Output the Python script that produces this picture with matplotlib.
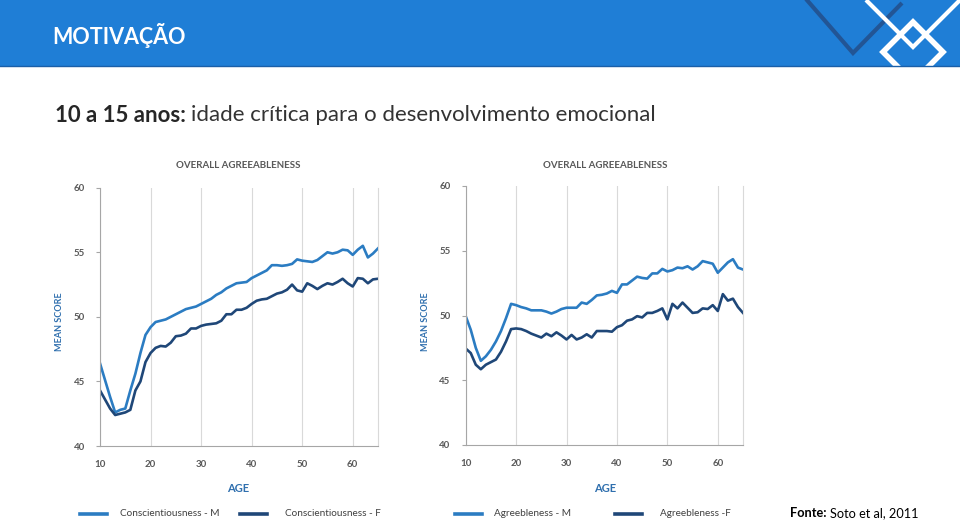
import matplotlib
matplotlib.use("Agg")
import matplotlib.pyplot as plt
from matplotlib.lines import Line2D
from matplotlib.patches import Rectangle, Polygon

plt.rcParams['font.family'] = ['Lato', 'DejaVu Sans']

ages = list(range(10, 66))

consc_m = [46.4, 45.1, 43.8, 42.6, 42.8, 42.9, 44.3, 45.6, 47.2, 48.6,
           49.2, 49.6, 49.7, 49.8, 50.0, 50.2, 50.4, 50.6, 50.7, 50.8,
           51.0, 51.2, 51.4, 51.7, 51.9, 52.2, 52.4, 52.6, 52.65, 52.7,
           53.0, 53.2, 53.4, 53.6, 54.0, 54.0, 53.95, 54.0, 54.1, 54.45,
           54.35, 54.3, 54.25, 54.4, 54.7, 55.0, 54.9, 55.0, 55.2, 55.15,
           54.8, 55.2, 55.5, 54.6, 54.9, 55.3]
consc_f = [44.3, 43.6, 42.9, 42.4, 42.5, 42.6, 42.8, 44.3, 45.0, 46.5,
           47.2, 47.6, 47.75, 47.7, 48.0, 48.5, 48.55, 48.7, 49.1, 49.1,
           49.3, 49.4, 49.45, 49.5, 49.7, 50.2, 50.2, 50.55, 50.55, 50.7,
           51.0, 51.25, 51.35, 51.4, 51.6, 51.8, 51.9, 52.1, 52.5, 52.05,
           51.95, 52.6, 52.4, 52.15, 52.4, 52.6, 52.5, 52.7, 52.95, 52.6,
           52.35, 53.0, 52.95, 52.6, 52.9, 52.95]
agree_m = [49.95, 48.9, 47.5, 46.5, 46.85, 47.35, 48.0, 48.8, 49.8, 50.9,
           50.8, 50.65, 50.55, 50.4, 50.4, 50.4, 50.3, 50.15, 50.3, 50.5,
           50.6, 50.6, 50.6, 51.0, 50.9, 51.2, 51.55, 51.6, 51.7, 51.9,
           51.75, 52.4, 52.4, 52.7, 53.0, 52.9, 52.85, 53.25, 53.25, 53.6,
           53.4, 53.5, 53.7, 53.65, 53.8, 53.55, 53.8, 54.2, 54.1, 54.0,
           53.3, 53.7, 54.1, 54.35, 53.7, 53.55]
agree_f = [47.45, 47.1, 46.2, 45.85, 46.2, 46.4, 46.6, 47.2, 48.0, 48.95,
           49.0, 48.95, 48.8, 48.6, 48.45, 48.3, 48.6, 48.4, 48.7, 48.45,
           48.15, 48.5, 48.15, 48.3, 48.55, 48.3, 48.8, 48.8, 48.8, 48.75,
           49.1, 49.25, 49.6, 49.7, 49.95, 49.85, 50.2, 50.2, 50.35, 50.55,
           49.7, 50.9, 50.55, 51.0, 50.6, 50.2, 50.25, 50.55, 50.5, 50.8,
           50.35, 51.65, 51.15, 51.3, 50.65, 50.2]

x_ticks = [10, 20, 30, 40, 50, 60]
y_ticks = [40, 45, 50, 55, 60]
legend_labels = ["Conscientiousness - M", "Conscientiousness - F",
                 "Agreebleness - M", "Agreebleness -F"]

LIGHT = "#2b7cc2"
DARK = "#1f4778"
HEADER = "#1f7ed6"
AXBLUE = "#2f6fae"
GRAY = "#595959"

W, H = 960, 520
fig = plt.figure(figsize=(W / 100, H / 100), dpi=100)
fig.patch.set_facecolor("white")
renderer = fig.canvas.get_renderer()

def fx(px):
    return px / W

def fy(py):
    return 1 - py / H

def text_after(t, gap_px, s, **kw):
    bb = t.get_window_extent(renderer=renderer)
    return fig.text((bb.x1 + gap_px) / W, t.get_position()[1], s, **kw)

# header bar
fig.add_artist(Rectangle((0, fy(66)), 1, 66 / H, transform=fig.transFigure,
                         facecolor=HEADER, edgecolor="none", zorder=0))
fig.add_artist(Line2D([0, 1], [fy(66), fy(66)], transform=fig.transFigure,
                      color="#1a5fa8", lw=1.0))
# decorative diamonds
fig.add_artist(Polygon([(fx(806), fy(-1)), (fx(853), fy(53)), (fx(902), fy(3))],
                       closed=False, fill=False, transform=fig.transFigure,
                       edgecolor="#23518e", lw=3.0, alpha=0.9))
fig.add_artist(Polygon([(fx(866), fy(0)), (fx(913), fy(47)), (fx(960), fy(0))],
                       closed=False, fill=False, transform=fig.transFigure,
                       edgecolor="white", lw=3.0))
fig.add_artist(Polygon([(fx(913), fy(22)), (fx(943), fy(52)), (fx(913), fy(82)),
                        (fx(883), fy(52))], closed=True, fill=False,
                       transform=fig.transFigure, edgecolor="white", lw=4.0))
fig.add_artist(Rectangle((fx(860), 0), 0.2, fy(67), transform=fig.transFigure,
                         facecolor="white", edgecolor="none"))

fig.text(fx(52), fy(36), "MOTIVAÇÃO", color="white", fontsize=15.5,
         fontweight="bold", va="center", ha="left")

t1 = fig.text(fx(55), fy(115), "10 a 15 anos:", color="#262626", fontsize=16,
              fontweight="bold", va="center", ha="left")
text_after(t1, 5, "idade crítica para o desenvolvimento emocional",
           color="#333333", fontsize=16, fontweight="normal",
           va="center", ha="left")

def make_axes(rect, m, f, title, tcx, tcy, ylabx):
    ax = fig.add_axes(rect)
    ax.plot(ages, m, color=LIGHT, lw=1.9, solid_joinstyle="round")
    ax.plot(ages, f, color=DARK, lw=1.9, solid_joinstyle="round")
    ax.set_xlim(10, 65)
    ax.set_ylim(40, 60)
    ax.set_xticks(x_ticks)
    ax.set_yticks(y_ticks)
    ax.grid(axis="x", color="#d9d9d9", lw=0.8)
    ax.set_axisbelow(True)
    ax.spines["top"].set_visible(False)
    ax.spines["right"].set_color("#d9d9d9")
    ax.spines["left"].set_color("#a6a6a6")
    ax.spines["bottom"].set_color("#a6a6a6")
    ax.tick_params(axis="y", length=3, color="#a6a6a6", labelsize=7,
                   labelcolor=GRAY, pad=8)
    ax.tick_params(axis="x", length=0, labelsize=7, labelcolor=GRAY, pad=10)
    for lab in ax.get_xticklabels() + ax.get_yticklabels():
        lab.set_fontweight("bold")
    fig.text(fx(tcx), fy(tcy), title, color=GRAY, fontsize=7, fontweight="bold",
             ha="center", va="center")
    fig.text(fx(ylabx), fy(322), "MEAN SCORE", color=AXBLUE, fontsize=6.5,
             fontweight="bold", ha="center", va="center", rotation=90)
    fig.text(fx(tcx), fy(488), "AGE", color=AXBLUE, fontsize=8,
             fontweight="bold", ha="center", va="center")
    return ax

make_axes([fx(100), fy(446), 278 / W, 258.3 / H], consc_m, consc_f,
          "OVERALL AGREEABLENESS", 238, 166, 60)
make_axes([fx(465.7), fy(445), 277.3 / W, 259 / H], agree_m, agree_f,
          "OVERALL AGREEABLENESS", 605, 165, 426)

# legend
leg_items = [(80, 107, 120, LIGHT), (240, 267, 285, DARK),
             (455, 482, 494, LIGHT), (615, 642, 660, DARK)]
for (x0, x1, tx, c), lab in zip(leg_items, legend_labels):
    fig.add_artist(Line2D([fx(x0), fx(x1)], [fy(514), fy(514)],
                          transform=fig.transFigure, color=c, lw=2.6))
    fig.text(fx(tx), fy(514), lab, color="#404040", fontsize=7.2,
             ha="left", va="center")

tf = fig.text(fx(790), fy(513), "Fonte:", color="black", fontsize=9.2,
              fontweight="bold", ha="left", va="center")
text_after(tf, 3, "Soto et al, 2011", color="black", fontsize=9.2,
           ha="left", va="center")

fig.savefig("out.png", dpi=100)
